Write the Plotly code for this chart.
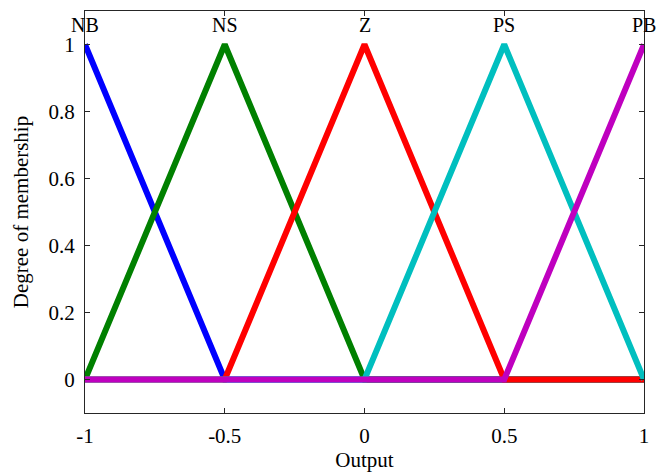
import plotly.graph_objects as go

# Membership function vertices (Output universe [-1, 1])
labels = ["NB", "NS", "Z", "PS", "PB"]
peaks = [-1.0, -0.5, 0.0, 0.5, 1.0]
nb_x = [-1.0, -0.5, 1.0]
nb_y = [1.0, 0.0, 0.0]
ns_x = [-1.0, -0.5, 0.0, 1.0]
ns_y = [0.0, 1.0, 0.0, 0.0]
z_x = [-1.0, -0.5, 0.0, 0.5, 1.0]
z_y = [0.0, 0.0, 1.0, 0.0, 0.0]
ps_x = [-1.0, 0.0, 0.5, 1.0]
ps_y = [0.0, 0.0, 1.0, 0.0]
pb_x = [-1.0, 0.5, 1.0]
pb_y = [0.0, 0.0, 1.0]

x_ticks = [-1, -0.5, 0, 0.5, 1]
x_tick_text = ["-1", "-0.5", "0", "0.5", "1"]
y_ticks = [0, 0.2, 0.4, 0.6, 0.8, 1]
y_tick_text = ["0", "0.2", "0.4", "0.6", "0.8", "1"]

series = [
    (nb_x, nb_y, "#0000FF"),
    (ns_x, ns_y, "#008000"),
    (z_x, z_y, "#FF0000"),
    (ps_x, ps_y, "#00BFBF"),
    (pb_x, pb_y, "#BF00BF"),
]

FONT = "Liberation Serif, Times New Roman, serif"

fig = go.Figure()
for xs, ys, c in series:
    fig.add_trace(go.Scatter(x=xs, y=ys, mode="lines",
                             line=dict(color=c, width=6),
                             showlegend=False, hoverinfo="skip"))

for lab, px in zip(labels, peaks):
    fig.add_annotation(x=px, y=1.058, xref="x", yref="y", text=lab,
                       showarrow=False, font=dict(family=FONT, size=20, color="#000000"),
                       xanchor="center", yanchor="middle", borderpad=0)

axis_common = dict(showline=True, linecolor="#262626", linewidth=1, mirror="ticks",
                   ticks="inside", ticklen=5, tickcolor="#262626", showgrid=False,
                   zeroline=False, automargin=False,
                   tickfont=dict(family=FONT, size=21, color="#000000"))

fig.update_xaxes(range=[-1, 1], tickvals=x_ticks, ticktext=x_tick_text,
                 ticklabelstandoff=4,
                 title=dict(text="Output", font=dict(family=FONT, size=21, color="#000000"), standoff=1),
                 **axis_common)
fig.update_yaxes(range=[-0.1, 1.1], tickvals=y_ticks, ticktext=y_tick_text,
                 ticklabelstandoff=5,
                 title=dict(text="Degree of membership", font=dict(family=FONT, size=21, color="#000000"), standoff=14),
                 **axis_common)

fig.update_layout(width=668, height=476, margin=dict(l=85, r=24, t=11, b=63),
                  plot_bgcolor="white", paper_bgcolor="white")

fig.write_html("out.html")
